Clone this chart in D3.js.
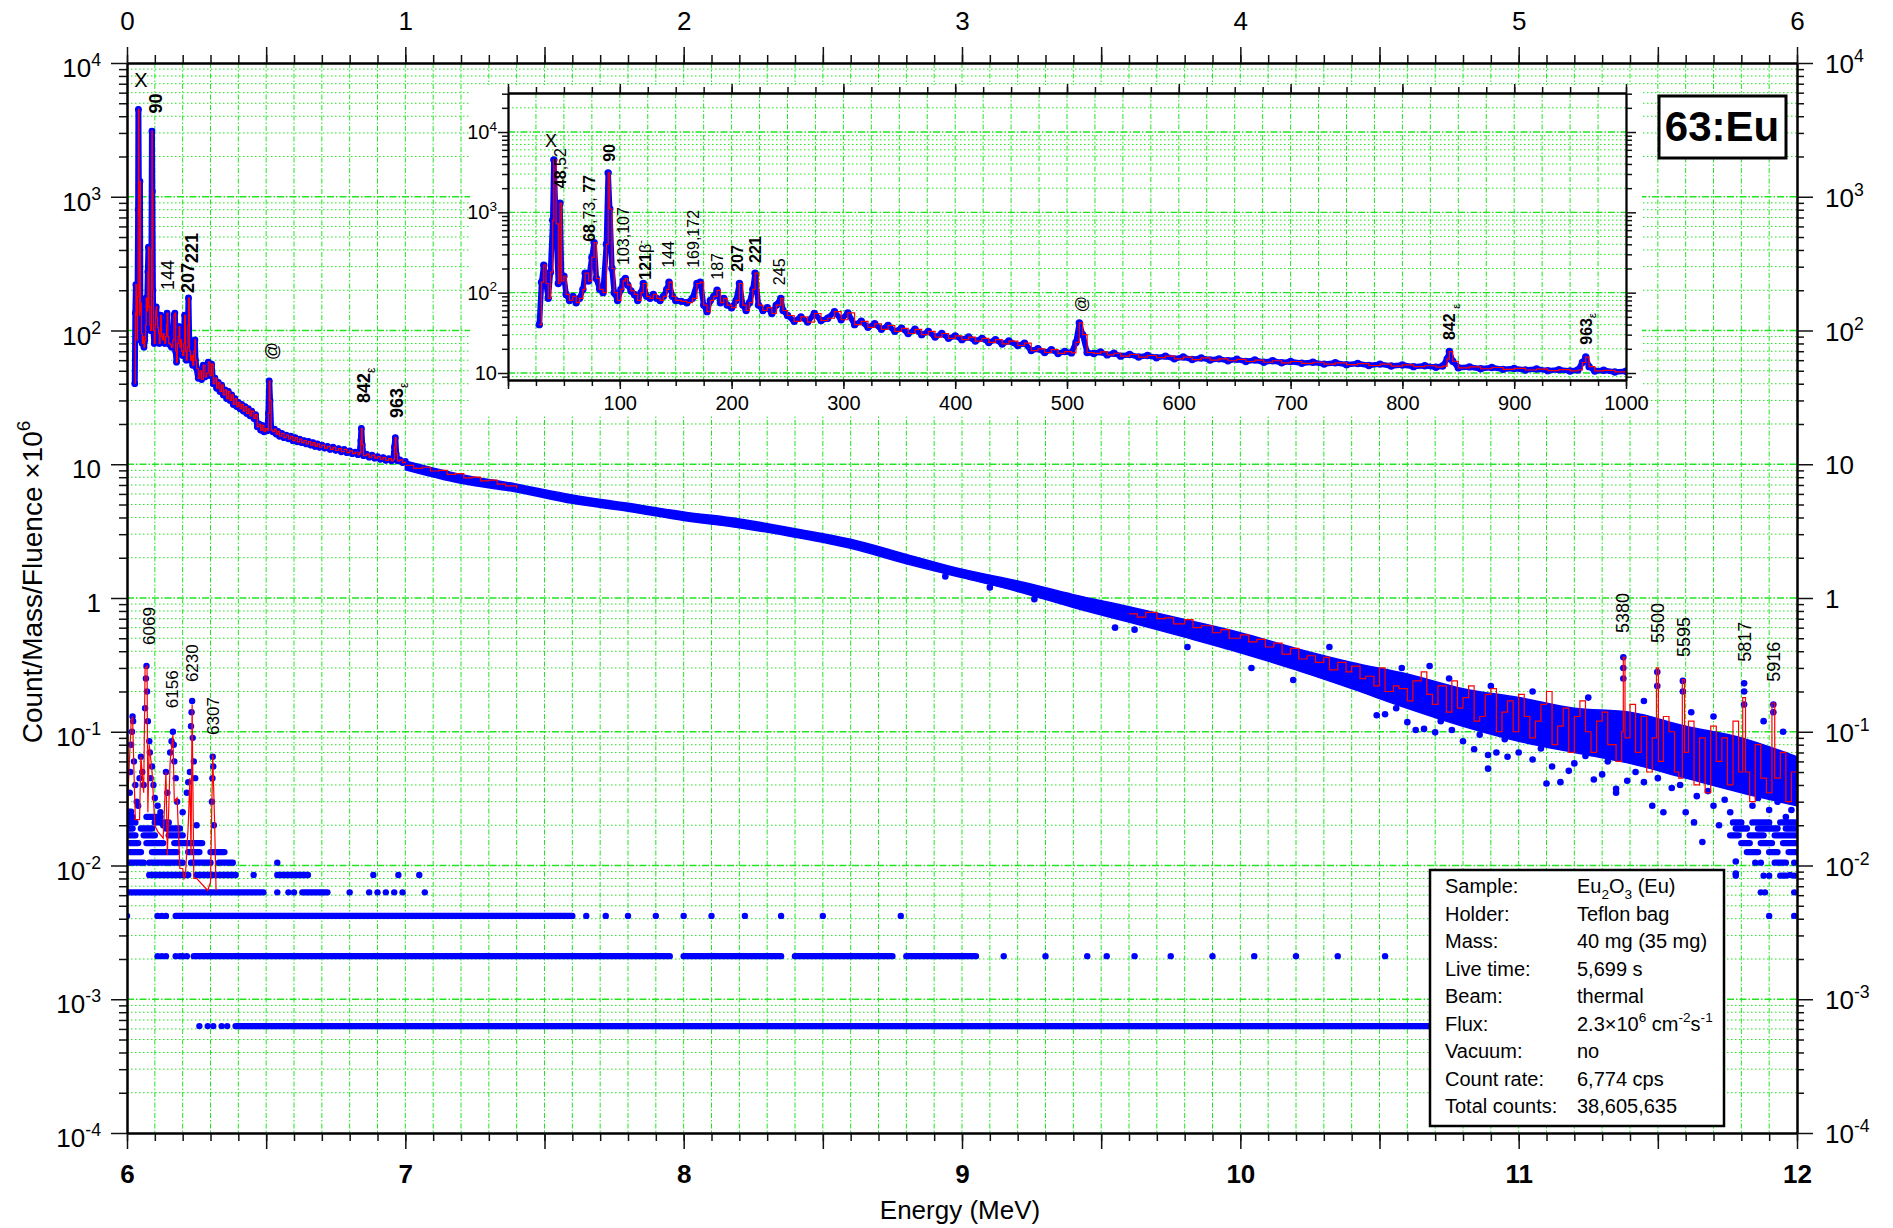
<!DOCTYPE html>
<html>
<head>
<meta charset="utf-8">
<script src="https://cdn.jsdelivr.net/npm/d3@7"></script>
<style>
  body { margin: 0; background: #fff; }
  text { font-family: Arial, "Liberation Sans", sans-serif; fill: #000; }
</style>
</head>
<body>
<svg id="chart" width="1893" height="1228"></svg>
<script>
// ---------- data ----------
// tick labels
const topTickLabels = [0, 1, 2, 3, 4, 5, 6];          // MeV, upper axis (first half of spectrum)
const bottomTickLabels = [6, 7, 8, 9, 10, 11, 12];    // MeV, lower axis (second half)
const yDecades = [-4, -3, -2, -1, 0, 1, 2, 3, 4];
const insetXTickLabels = [100, 200, 300, 400, 500, 600, 700, 800, 900, 1000];
const insetYDecades = [1, 2, 3, 4];

// low energy part of the spectrum (keV) - used by the inset and by the main plot
const lowKeV = [28,30,32,34,36,38,40,41,43,45,
  46.5,48,50,52,55,58,61,64,67,69,
  72,75,77,79,82,85,88,89.6,91,93,
  95,98,101,103,105,107,110,113,116,119,
  121,124,127,130,133,136,139,142,144,147,
  150,155,160,165,169,172,175,178,181,184,
  187,190,193,196,200,204,207,210,213,216,
  219,221,224,228,232,236,240,244,246,250,
  256,262,268,274,280,286,292,298,304,310,
  316,322,328,334,340,346,352,358,364,370,
  376,382,388,394,400,406,412,418,424,430,
  436,442,448,456,462,468,474,480,486,492,
  498,504,508,511,514,518,524,530,536,542,
  548,556,564,572,580,588,596,604,612,620,
  628,636,644,652,660,668,676,684,692,700,
  710,720,730,740,750,760,770,780,790,800,
  810,820,830,836,840,842,845,850,860,870,
  880,890,900,910,920,930,940,950,957,961,
  964,967,972,980,990,1000];
const lowVal = [40,135,220,130,85,180,800,4500,720,130,
  1300,140,160,95,80,90,75,85,110,175,
  140,275,420,150,110,100,400,3100,1100,200,
  100,80,110,140,150,125,105,95,80,100,
  130,90,85,95,85,80,90,110,135,90,
  80,78,75,85,130,135,70,58,80,90,
  107,75,85,70,65,80,130,70,60,75,
  110,175,70,60,65,55,70,85,60,52,
  44,50,43,55,45,48,58,46,56,40,
  44,37,41,35,39,33,36,31,35,30,
  33,28,31,27,29,26,28,25,27,24,
  26,23,25,22,23.5,19,20,18,19.5,17.5,
  18.5,17.8,24,42,30,18,17.5,18.3,16.8,17.6,
  16.2,17,15.8,16.5,15.5,16.2,15,15.8,14.7,15.4,
  14.5,15,14.2,14.8,13.9,14.5,13.6,14.2,13.4,13.9,
  13.2,13.6,12.9,13.4,12.7,13.1,12.4,12.9,12.2,12.6,
  12.0,12.3,11.8,12.2,15,18.5,14,11.6,11.9,11.3,
  11.7,11.1,11.4,10.9,11.2,10.7,11.0,10.6,10.9,13.5,
  15.8,12,10.6,10.8,10.3,10.5];

// 1 - 6 MeV: envelope of the dense blue band
const bandE  = [1.0,1.2,1.4,1.6,1.8,2.0,2.2,2.4,2.6,2.8,3.0,3.2,3.4,3.6,3.8,4.0,4.2,4.4,4.6,4.8,5.0,5.2,5.4,5.6,5.8,6.0];
const bandLo = [9.1,7.2,6.2,5.1,4.45,3.8,3.35,2.85,2.35,1.8,1.42,1.12,0.85,0.66,0.51,0.39,0.29,0.21,0.15,0.11,0.085,0.07,0.058,0.045,0.035,0.028];
const bandHi = [10.6,8.4,7.1,5.9,5.1,4.4,3.9,3.3,2.75,2.12,1.64,1.34,1.06,0.86,0.69,0.55,0.42,0.33,0.27,0.21,0.18,0.15,0.14,0.11,0.09,0.065];

// red trace pieces
const redMidE = [1.00,1.03,1.06,1.09,1.12,1.15,1.18,1.21,1.24,1.27,1.30,1.33,1.36,1.40];
const redMidV = [9.8,9.3,9.5,8.9,9.0,8.4,8.5,7.9,8.0,7.5,7.6,7.1,6.9,6.6];
const redHiE = [3.60,3.63,3.66,3.70,3.73,3.76,3.80,3.83,3.86,3.90,
  3.93,3.96,4.00,4.03,4.06,4.09,4.12,4.15,4.18,4.21,
  4.24,4.27,4.30,4.32,4.35,4.38,4.40,4.43,4.45,4.48,
  4.50,4.52,4.55,4.57,4.60,4.62,4.65,4.67,4.69,4.71,
  4.74,4.76,4.78,4.80,4.82,4.84,4.86,4.88,4.90,4.92,
  4.94,4.96,4.98,5.00,5.02,5.04,5.06,5.08,5.10,5.12,
  5.14,5.16,5.18,5.20,5.22,5.24,5.26,5.28,5.30,5.32,
  5.35,5.37,5.376,5.382,5.40,5.42,5.44,5.46,5.48,5.495,
  5.502,5.52,5.54,5.56,5.575,5.588,5.596,5.61,5.63,5.65,
  5.67,5.69,5.71,5.73,5.75,5.77,5.79,5.805,5.815,5.83,
  5.85,5.87,5.89,5.91,5.92,5.94,5.96,5.98,6.00];
const redHiV = [0.76,0.72,0.78,0.70,0.71,0.64,0.69,0.60,0.62,0.55,
  0.58,0.50,0.53,0.47,0.49,0.43,0.46,0.38,0.42,0.35,
  0.37,0.33,0.36,0.29,0.33,0.28,0.31,0.25,0.26,0.22,
  0.30,0.20,0.22,0.21,0.17,0.24,0.28,0.19,0.16,0.22,
  0.14,0.24,0.15,0.18,0.22,0.12,0.13,0.19,0.21,0.10,
  0.14,0.17,0.10,0.19,0.13,0.09,0.12,0.16,0.20,0.08,
  0.11,0.15,0.07,0.13,0.17,0.10,0.07,0.12,0.14,0.08,
  0.06,0.10,0.36,0.09,0.16,0.07,0.13,0.05,0.09,0.30,
  0.06,0.13,0.10,0.05,0.045,0.245,0.07,0.12,0.04,0.09,
  0.035,0.11,0.06,0.09,0.04,0.12,0.05,0.18,0.05,0.03,
  0.08,0.045,0.035,0.164,0.045,0.07,0.03,0.05,0.02];

// single blue points off the band (upper half of spectrum)
const topOutE = [3.81,4.04,4.19,4.32,4.49,4.63,4.68,4.70,4.76,4.84,
  4.89,4.89,4.96,5.10,5.15,5.18,5.27,5.35,5.39,5.35,
  5.48,5.52,5.60,5.63,5.66,5.72,5.78,5.78,5.975,2.94,
  3.10,3.26,3.55,3.62,5.376,5.376,5.376,5.498,5.498,5.59,
  5.59,5.81,5.81,5.81,5.915,5.915,4.52,4.56,4.60,4.66,
  4.72,4.80,4.86,4.92,4.95,5.00,5.05,5.08,5.12,5.20,
  5.24,5.30,5.32,5.42,5.45,5.50,5.55,5.58,5.64,5.68,
  5.70,5.74,5.76,5.84,5.86,5.90,5.93,5.96,5.98,4.58,
  4.75,4.90,5.05,5.25,5.45,5.62,5.70,5.88,5.95];
const topOutV = [0.43,0.30,0.244,0.43,0.133,0.103,0.31,0.099,0.103,0.074,
  0.067,0.053,0.065,0.041,0.042,0.051,0.044,0.035,0.043,0.0375,
  0.028,0.025,0.025,0.021,0.015,0.02,0.0107,0.0087,0.0085,1.45,
  1.2,0.98,0.6,0.58,0.36,0.30,0.25,0.28,0.22,0.24,
  0.2,0.23,0.2,0.16,0.16,0.14,0.135,0.15,0.118,0.105,
  0.12,0.085,0.095,0.07,0.088,0.07,0.062,0.075,0.055,0.058,
  0.066,0.048,0.06,0.05,0.042,0.045,0.038,0.04,0.033,0.036,
  0.028,0.031,0.025,0.028,0.032,0.026,0.03,0.023,0.026,0.3,
  0.25,0.22,0.2,0.18,0.17,0.14,0.13,0.12,0.1];

// low-count rows (1,2,3... counts per channel), upper half near 6 MeV
const topRowLevel = [0.021,0.021,0.021,0.0189,0.0189,0.0189,0.0168,0.0168,0.0168,0.0147,0.0147,0.0147,0.0126,0.0126,0.0126,0.0105,0.0084];
const topRowFrom  = [5.77,5.84,5.94,5.78,5.86,5.96,5.76,5.83,5.92,5.80,5.87,5.95,5.82,5.90,5.97,5.92,5.94];
const topRowTo    = [5.80,5.90,6.00,5.82,5.93,6.00,5.79,5.88,6.00,5.83,5.91,6.00,5.86,5.93,6.00,5.96,5.96];
const topSparseLevel = [0.0105, 0.0084, 0.0063, 0.0042];
const topSparseE = [[5.85, 5.87, 5.99], [5.78, 5.88, 5.90, 5.99], [5.87, 5.885, 5.99], [5.90, 5.99]];

// second half of spectrum (6 - 12 MeV, lower axis)
const botRedE = [6.001,6.005,6.015,6.02,6.025,6.03,6.045,6.05,6.06,6.065,
  6.072,6.075,6.08,6.09,6.1,6.11,6.13,6.14,6.145,6.155,
  6.165,6.17,6.18,6.19,6.2,6.205,6.21,6.22,6.226,6.23,
  6.234,6.24,6.25,6.29,6.3,6.308,6.315,6.32];
const botRedV = [0.018,0.04,0.12,0.13,0.05,0.022,0.022,0.065,0.035,0.3,
  0.31,0.025,0.08,0.05,0.02,0.018,0.016,0.05,0.012,0.06,
  0.095,0.03,0.032,0.0095,0.0095,0.008,0.0085,0.02,0.045,0.012,
  0.16,0.008,0.008,0.0065,0.0075,0.068,0.02,0.0065];
const botPeakE = [6.005,6.01,6.012,6.015,6.018,6.02,6.022,6.025,6.03,6.035,
  6.04,6.045,6.05,6.055,6.06,6.065,6.068,6.07,6.072,6.075,
  6.08,6.082,6.085,6.09,6.095,6.1,6.11,6.12,6.13,6.14,
  6.145,6.155,6.16,6.165,6.168,6.17,6.175,6.18,6.2,6.215,
  6.22,6.226,6.23,6.232,6.234,6.236,6.24,6.245,6.25,6.305,
  6.307,6.308,6.31,6.312];
const botPeakV = [0.025,0.035,0.05,0.08,0.1,0.13,0.12,0.06,0.04,0.03,
  0.028,0.045,0.065,0.05,0.04,0.15,0.25,0.31,0.2,0.12,
  0.085,0.07,0.045,0.055,0.04,0.032,0.028,0.025,0.02,0.05,
  0.035,0.07,0.085,0.1,0.08,0.06,0.045,0.03,0.025,0.035,
  0.042,0.05,0.11,0.14,0.17,0.09,0.06,0.045,0.02,0.03,
  0.045,0.065,0.055,0.02];
const botRowLevel = [0.00063,0.0021,0.0021,0.0021,0.0021,0.0042,0.0063,0.0063,0.0085,0.0085,0.0085,
  0.0105,0.0105,0.0105,0.0105,0.0126,0.0126,0.0126,0.0126,0.0147,0.0147,0.0147,
  0.0168,0.0168,0.0168,0.0189,0.0189,0.0189,0.021,0.021,0.0231,0.0231,0.0252];
const botRowFrom  = [6.39,6.24,8.0,8.4,8.8,6.175,6.0,6.63,6.08,6.25,6.54,
  6.0,6.08,6.23,6.33,6.0,6.09,6.22,6.30,6.0,6.07,6.17,
  6.0,6.06,6.15,6.0,6.05,6.14,6.0,6.10,6.0,6.07,6.0];
const botRowTo    = [10.75,7.95,8.35,8.75,9.05,7.6,6.49,6.72,6.22,6.39,6.65,
  6.06,6.20,6.30,6.38,6.05,6.18,6.26,6.35,6.04,6.13,6.27,
  6.03,6.10,6.20,6.02,6.09,6.19,6.03,6.15,6.02,6.12,6.015];
const botSparseLevel = [0.00063, 0.0021, 0.0042, 0.0063, 0.0085, 0.0105];
const botSparseE = [
  [6.26,6.29,6.31,6.34,6.36],
  [6.11,6.125,6.14,6.175,6.19,6.2,6.215,9.15,9.3,9.45,9.52,9.62,9.75,9.9,10.05,10.2,10.35,10.52],
  [6.0,6.11,6.125,6.14,7.65,7.72,7.8,7.9,8.0,8.1,8.22,8.35,8.5,8.78],
  [6.54,6.58,6.6,6.8,6.87,6.9,6.93,6.96,6.99,7.07],
  [6.455,6.885,6.975,7.05],
  [6.54]
];

// peak annotations: text (*bold*, _sub, ^sup), energy, value where the text starts
const mainLabText = ["*90*", "144", "*207*", "*221*", "@", "*842*_ε", "*963*_ε"];
const mainLabE = [0.104, 0.147, 0.219, 0.233, 0.52, 0.849, 0.968];
const mainLabV = [4200, 201, 191, 320, 60, 28.7, 22.2];
const rightLabText = ["5380", "5500", "5595", "5817", "5916"];
const rightLabE = [5.373, 5.498, 5.591, 5.81, 5.914];
const rightLabV = [0.547, 0.461, 0.362, 0.333, 0.236];
const botLabText = ["6069", "6156", "6230", "6307"];
const botLabE = [6.079, 6.161, 6.233, 6.308];
const botLabV = [0.446, 0.15, 0.235, 0.0946];
const insLabText = ["*48*,52", "*68*,73, *77*", "*90*", "103,107", "*121*β^-", "144", "169,172", "187", "*207*", "*221*", "245", "@", "*842* _ε", "*963*_ε"];
const insLabE = [46.5, 73, 91, 103, 122.5, 143, 166, 187, 205, 221, 243, 512.5, 842, 964];
const insLabV = [2000, 430, 4250, 221, 145, 204, 204, 145, 182, 234, 124, 57, 25.8, 22.5];

const legendKeys = ["Sample:", "Holder:", "Mass:", "Live time:", "Beam:", "Flux:", "Vacuum:", "Count rate:", "Total counts:"];
const legendVals = ["Eu_2O_3 (Eu)", "Teflon bag", "40 mg (35 mg)", "5,699 s", "thermal", "2.3×10^6 cm^{-2}s^{-1}", "no", "6,774 cps", "38,605,635"];

// ---------- layout ----------
const svg = d3.select("#chart");
const P = { l: 127, r: 1797, t: 63, b: 1133 };
const I = { l: 508, r: 1626, t: 93, b: 380 };
const blue = "#0000ff", red = "#ff0000", green = "#1fe61f";

const xTop = d3.scaleLinear().domain([0, 6]).range([P.l, P.r]);
const xBot = d3.scaleLinear().domain([6, 12]).range([P.l, P.r]);
const y = d3.scaleLog().domain([1e-4, 1e4]).range([P.b, P.t]);
const xIn = d3.scaleLinear().domain([0, 1000]).range([I.l, I.r]);
const yIn = d3.scaleLog().domain([8.18, 30600]).range([I.b, I.t]);

svg.append("rect").attr("width", 1893).attr("height", 1228).attr("fill", "#fff");

const defs = svg.append("defs");
defs.append("clipPath").attr("id", "clipMain").append("rect")
  .attr("x", P.l).attr("y", P.t).attr("width", P.r - P.l).attr("height", P.b - P.t);
defs.append("clipPath").attr("id", "clipIn").append("rect")
  .attr("x", I.l).attr("y", I.t).attr("width", I.r - I.l).attr("height", I.b - I.t);

// parse "*bold*", "_s", "^s", "^{..}"
function parseRich(str) {
  const out = []; let bold = false, buf = "", i = 0;
  const flush = () => { if (buf) { out.push({ t: buf, b: bold }); buf = ""; } };
  while (i < str.length) {
    const c = str[i];
    if (c === "*") { flush(); bold = !bold; i++; }
    else if (c === "_" || c === "^") {
      flush();
      let t;
      if (str[i + 1] === "{") { const j = str.indexOf("}", i); t = str.slice(i + 2, j); i = j + 1; }
      else { t = str[i + 1]; i += 2; }
      out.push({ t: t, b: bold, sub: c === "_", sup: c === "^" });
    } else { buf += c; i++; }
  }
  flush();
  return out;
}
function rich(text, str, size) {
  let shift = 0;
  parseRich(str).forEach(p => {
    const target = p.sub ? size * 0.3 : p.sup ? -size * 0.42 : 0;
    const ts = text.append("tspan").text(p.t);
    if (p.b) ts.attr("font-weight", "bold");
    if (p.sub || p.sup) ts.attr("font-size", size * 0.68);
    if (target !== shift) ts.attr("dy", target - shift);
    shift = target;
  });
  return text;
}
function vText(g, xc, yb, str, size) {
  // rotated label reading upwards, centred on xc, starting at yb
  const t = g.append("text").attr("font-size", size)
    .attr("transform", `translate(${xc + 0.36 * size},${yb}) rotate(-90)`);
  return rich(t, str, size);
}

// ---------- main grid ----------
const topMinor = d3.range(0, 61).map(i => i / 10);
const topHalf = d3.range(0, 13).map(i => i / 2);
const gGrid = svg.append("g").attr("fill", "none").attr("stroke", green);
topMinor.slice(1, -1).forEach(e => {
  gGrid.append("line").attr("x1", xTop(e)).attr("x2", xTop(e)).attr("y1", P.t).attr("y2", P.b)
    .attr("stroke-width", 1).attr("stroke-dasharray", "5,2,1.5,2");
});
const yMinor = [], yMajor = [];
d3.range(-4, 5).forEach(d => {
  yMajor.push(Math.pow(10, d));
  if (d < 4) d3.range(2, 10).forEach(k => yMinor.push(k * Math.pow(10, d)));
});
yMajor.slice(1, -1).forEach(v => {
  gGrid.append("line").attr("x1", P.l).attr("x2", P.r).attr("y1", y(v)).attr("y2", y(v))
    .attr("stroke-width", 1.3).attr("stroke-dasharray", "7,2,1.5,2");
});
yMinor.forEach(v => {
  gGrid.append("line").attr("x1", P.l).attr("x2", P.r).attr("y1", y(v)).attr("y2", y(v))
    .attr("stroke-width", 1).attr("stroke-dasharray", "1.5,2.5");
});

// ---------- main data ----------
const gData = svg.append("g").attr("clip-path", "url(#clipMain)");
const lowPts = lowKeV.map((k, i) => ({ e: k, v: lowVal[i] }));

// second half: rows of low-count channels
botRowLevel.forEach((lv, i) => {
  gData.append("line").attr("x1", xBot(botRowFrom[i])).attr("x2", xBot(botRowTo[i]))
    .attr("y1", y(lv)).attr("y2", y(lv))
    .attr("stroke", blue).attr("stroke-width", 6.4).attr("stroke-linecap", "round");
});
botSparseLevel.forEach((lv, i) => {
  botSparseE[i].forEach(e => gData.append("circle").attr("cx", xBot(e)).attr("cy", y(lv)).attr("r", 3.2).attr("fill", blue));
});
botPeakE.forEach((e, i) => gData.append("circle").attr("cx", xBot(e)).attr("cy", y(botPeakV[i])).attr("r", 3.2).attr("fill", blue));

// first half: low energy part
const lineMainLow = d3.line().x(d => xTop(d.e / 1000)).y(d => y(d.v));
gData.append("path").datum(lowPts).attr("d", lineMainLow)
  .attr("fill", "none").attr("stroke", blue).attr("stroke-width", 6).attr("stroke-linejoin", "round");
lowPts.forEach(d => gData.append("circle").attr("cx", xTop(d.e / 1000)).attr("cy", y(d.v)).attr("r", 3.4).attr("fill", blue));

// band 1 - 6 MeV
const bandPts = bandE.map((e, i) => ({ e: e, lo: bandLo[i], hi: bandHi[i] }));
gData.append("path").datum(bandPts)
  .attr("d", d3.area().x(d => xTop(d.e)).y0(d => y(d.lo)).y1(d => y(d.hi)).curve(d3.curveMonotoneX))
  .attr("fill", blue).attr("stroke", blue).attr("stroke-width", 1.5).attr("stroke-linejoin", "round");
topOutE.forEach((e, i) => gData.append("circle").attr("cx", xTop(e)).attr("cy", y(topOutV[i])).attr("r", 3.3).attr("fill", blue));
topRowLevel.forEach((lv, i) => {
  gData.append("line").attr("x1", xTop(topRowFrom[i])).attr("x2", xTop(topRowTo[i]))
    .attr("y1", y(lv)).attr("y2", y(lv))
    .attr("stroke", blue).attr("stroke-width", 6.4).attr("stroke-linecap", "round");
});
topSparseLevel.forEach((lv, i) => {
  topSparseE[i].forEach(e => gData.append("circle").attr("cx", xTop(e)).attr("cy", y(lv)).attr("r", 3.2).attr("fill", blue));
});

// red traces (step-like)
const step = d3.curveStepAfter;
gData.append("path").datum(lowPts).attr("d", d3.line().x(d => xTop(d.e / 1000)).y(d => y(d.v)).curve(step))
  .attr("fill", "none").attr("stroke", red).attr("stroke-width", 1.2);
gData.append("path").datum(redMidE.map((e, i) => ({ e: e, v: redMidV[i] })))
  .attr("d", d3.line().x(d => xTop(d.e)).y(d => y(d.v)).curve(step))
  .attr("fill", "none").attr("stroke", red).attr("stroke-width", 1.2);
gData.append("path").datum(redHiE.map((e, i) => ({ e: e, v: redHiV[i] })))
  .attr("d", d3.line().x(d => xTop(d.e)).y(d => y(d.v)).curve(step))
  .attr("fill", "none").attr("stroke", red).attr("stroke-width", 1.2);
gData.append("path").datum(botRedE.map((e, i) => ({ e: e, v: botRedV[i] })))
  .attr("d", d3.line().x(d => xBot(d.e)).y(d => y(d.v)))
  .attr("fill", "none").attr("stroke", red).attr("stroke-width", 1.2);

// ---------- main annotations ----------
const gLab = svg.append("g");
gLab.append("text").attr("x", xTop(0.05)).attr("y", y(6600)).attr("font-size", 20)
  .attr("text-anchor", "middle").text("X");
mainLabText.forEach((t, i) => vText(gLab, xTop(mainLabE[i]), y(mainLabV[i]), t, 18));
rightLabText.forEach((t, i) => vText(gLab, xTop(rightLabE[i]), y(rightLabV[i]), t, 18));
botLabText.forEach((t, i) => vText(gLab, xBot(botLabE[i]), y(botLabV[i]), t, 17));

// ---------- main axes ----------
function styleAxis(g, w) {
  g.attr("font-family", null).attr("font-size", null);
  g.select(".domain").attr("stroke", "#000").attr("stroke-width", w);
  g.selectAll(".tick line").attr("stroke", "#111").attr("stroke-width", 1.5);
  g.selectAll(".tick text").attr("fill", "#000");
}
const aTop1 = svg.append("g").attr("transform", `translate(0,${P.t})`)
  .call(d3.axisTop(xTop).tickValues(topMinor).tickSize(8).tickSizeOuter(0).tickFormat(""));
styleAxis(aTop1, 2);
const aTop2 = svg.append("g").attr("transform", `translate(0,${P.t})`)
  .call(d3.axisTop(xTop).tickValues(topHalf).tickSize(16).tickSizeOuter(0).tickPadding(17)
    .tickFormat(d => topTickLabels.includes(d) ? d : ""));
styleAxis(aTop2, 2);
aTop2.selectAll(".tick text").attr("font-size", 26);

const botMinor = topMinor.map(d => d + 6);
const botHalf = topHalf.map(d => d + 6);
const aBot1 = svg.append("g").attr("transform", `translate(0,${P.b})`)
  .call(d3.axisBottom(xBot).tickValues(botMinor).tickSize(8).tickSizeOuter(0).tickFormat(""));
styleAxis(aBot1, 2);
const aBot2 = svg.append("g").attr("transform", `translate(0,${P.b})`)
  .call(d3.axisBottom(xBot).tickValues(botHalf).tickSize(16).tickSizeOuter(0).tickPadding(16)
    .tickFormat(d => bottomTickLabels.includes(d) ? d : ""));
styleAxis(aBot2, 2);
aBot2.selectAll(".tick text").attr("font-size", 26).attr("font-weight", "bold");

[["left", d3.axisLeft, P.l], ["right", d3.axisRight, P.r]].forEach(([side, ax, xp]) => {
  const a1 = svg.append("g").attr("transform", `translate(${xp},0)`)
    .call(ax(y).tickValues(yMinor).tickSize(side === "left" ? 8 : 7).tickSizeOuter(0).tickFormat(""));
  styleAxis(a1, 2);
  const a2 = svg.append("g").attr("transform", `translate(${xp},0)`)
    .call(ax(y).tickValues(yMajor).tickSize(16).tickSizeOuter(0).tickFormat(""));
  styleAxis(a2, 2);
});
function decadeLabel(d) { return d === 0 ? "1" : d === 1 ? "10" : "10^{" + d + "}"; }
yDecades.forEach(d => {
  const v = Math.pow(10, d);
  rich(svg.append("text").attr("x", 101).attr("y", y(v) + 14).attr("font-size", 26).attr("text-anchor", "end"), decadeLabel(d), 26);
  rich(svg.append("text").attr("x", 1825).attr("y", y(v) + 10).attr("font-size", 26), decadeLabel(d), 26);
});

// axis titles
rich(svg.append("text").attr("font-size", 28).attr("text-anchor", "middle")
  .attr("transform", "translate(42,582) rotate(-90)"), "Count/Mass/Fluence ×10^6", 28);
svg.append("text").attr("x", 960).attr("y", 1219).attr("font-size", 26)
  .attr("text-anchor", "middle").text("Energy (MeV)");

// ---------- inset ----------
const gIn = svg.append("g");
gIn.append("rect").attr("x", 470).attr("y", 85).attr("width", 1172).attr("height", 331).attr("fill", "#fff");
const inXminor = d3.range(1, 40).map(i => i * 25);
inXminor.forEach(e => {
  gIn.append("line").attr("x1", xIn(e)).attr("x2", xIn(e)).attr("y1", I.t).attr("y2", I.b)
    .attr("stroke", green).attr("stroke-width", 1).attr("stroke-dasharray", "5,2,1.5,2");
});
const inYMajor = [10, 100, 1000, 10000];
const inYMinor = [];
d3.range(0, 5).forEach(d => d3.range(2, 10).forEach(k => {
  const v = k * Math.pow(10, d);
  if (v > 8.18 && v < 30600) inYMinor.push(v);
}));
inYMajor.forEach(v => gIn.append("line").attr("x1", I.l).attr("x2", I.r).attr("y1", yIn(v)).attr("y2", yIn(v))
  .attr("stroke", green).attr("stroke-width", 1.3).attr("stroke-dasharray", "7,2,1.5,2"));
inYMinor.forEach(v => gIn.append("line").attr("x1", I.l).attr("x2", I.r).attr("y1", yIn(v)).attr("y2", yIn(v))
  .attr("stroke", green).attr("stroke-width", 1).attr("stroke-dasharray", "1.5,2.5"));

const gInData = gIn.append("g").attr("clip-path", "url(#clipIn)");
gInData.append("path").datum(lowPts).attr("d", d3.line().x(d => xIn(d.e)).y(d => yIn(d.v)))
  .attr("fill", "none").attr("stroke", blue).attr("stroke-width", 5.5).attr("stroke-linejoin", "round");
lowPts.forEach(d => gInData.append("circle").attr("cx", xIn(d.e)).attr("cy", yIn(d.v)).attr("r", 3.7).attr("fill", blue));
gInData.append("path").datum(lowPts).attr("d", d3.line().x(d => xIn(d.e)).y(d => yIn(d.v)).curve(step))
  .attr("fill", "none").attr("stroke", red).attr("stroke-width", 1.2);

gIn.append("text").attr("x", xIn(38.5)).attr("y", yIn(6500)).attr("font-size", 18)
  .attr("text-anchor", "middle").text("X");
insLabText.forEach((t, i) => vText(gIn, xIn(insLabE[i]), yIn(insLabV[i]), t, 16));

const inX1 = d3.range(0, 41).map(i => i * 25);
const inX2 = d3.range(0, 11).map(i => i * 100);
[["top", d3.axisTop, I.t], ["bottom", d3.axisBottom, I.b]].forEach(([side, ax, yp]) => {
  const a1 = gIn.append("g").attr("transform", `translate(0,${yp})`)
    .call(ax(xIn).tickValues(inX1).tickSize(6).tickSizeOuter(0).tickFormat(""));
  styleAxis(a1, 1.8);
  const a2 = gIn.append("g").attr("transform", `translate(0,${yp})`)
    .call(ax(xIn).tickValues(inX2).tickSize(9).tickSizeOuter(0).tickPadding(7)
      .tickFormat(d => side === "bottom" && insetXTickLabels.includes(d) ? d : ""));
  styleAxis(a2, 1.8);
  a2.selectAll(".tick text").attr("font-size", 20);
});
[["left", d3.axisLeft, I.l], ["right", d3.axisRight, I.r]].forEach(([side, ax, xp]) => {
  const a1 = gIn.append("g").attr("transform", `translate(${xp},0)`)
    .call(ax(yIn).tickValues(inYMinor).tickSize(6).tickSizeOuter(0).tickFormat(""));
  styleAxis(a1, 1.8);
  const a2 = gIn.append("g").attr("transform", `translate(${xp},0)`)
    .call(ax(yIn).tickValues(inYMajor).tickSize(10).tickSizeOuter(0).tickFormat(""));
  styleAxis(a2, 1.8);
});
insetYDecades.forEach(d => {
  rich(gIn.append("text").attr("x", 497).attr("y", yIn(Math.pow(10, d)) + 7).attr("font-size", 20)
    .attr("text-anchor", "end"), d === 1 ? "10" : "10^{" + d + "}", 20);
});

// ---------- element tag ----------
svg.append("rect").attr("x", 1659).attr("y", 96).attr("width", 127).attr("height", 62)
  .attr("fill", "#fff").attr("stroke", "#000").attr("stroke-width", 3);
svg.append("text").attr("x", 1722).attr("y", 141).attr("font-size", 42).attr("font-weight", "bold")
  .attr("text-anchor", "middle").text("63:Eu");

// ---------- info box ----------
svg.append("rect").attr("x", 1430).attr("y", 870).attr("width", 294).attr("height", 256)
  .attr("fill", "#fff").attr("stroke", "#000").attr("stroke-width", 2.5);
legendKeys.forEach((k, i) => {
  const yy = 893 + i * 27.5;
  svg.append("text").attr("x", 1445).attr("y", yy).attr("font-size", 20).text(k);
  rich(svg.append("text").attr("x", 1577).attr("y", yy).attr("font-size", 20), legendVals[i], 20);
});
</script>
</body>
</html>
